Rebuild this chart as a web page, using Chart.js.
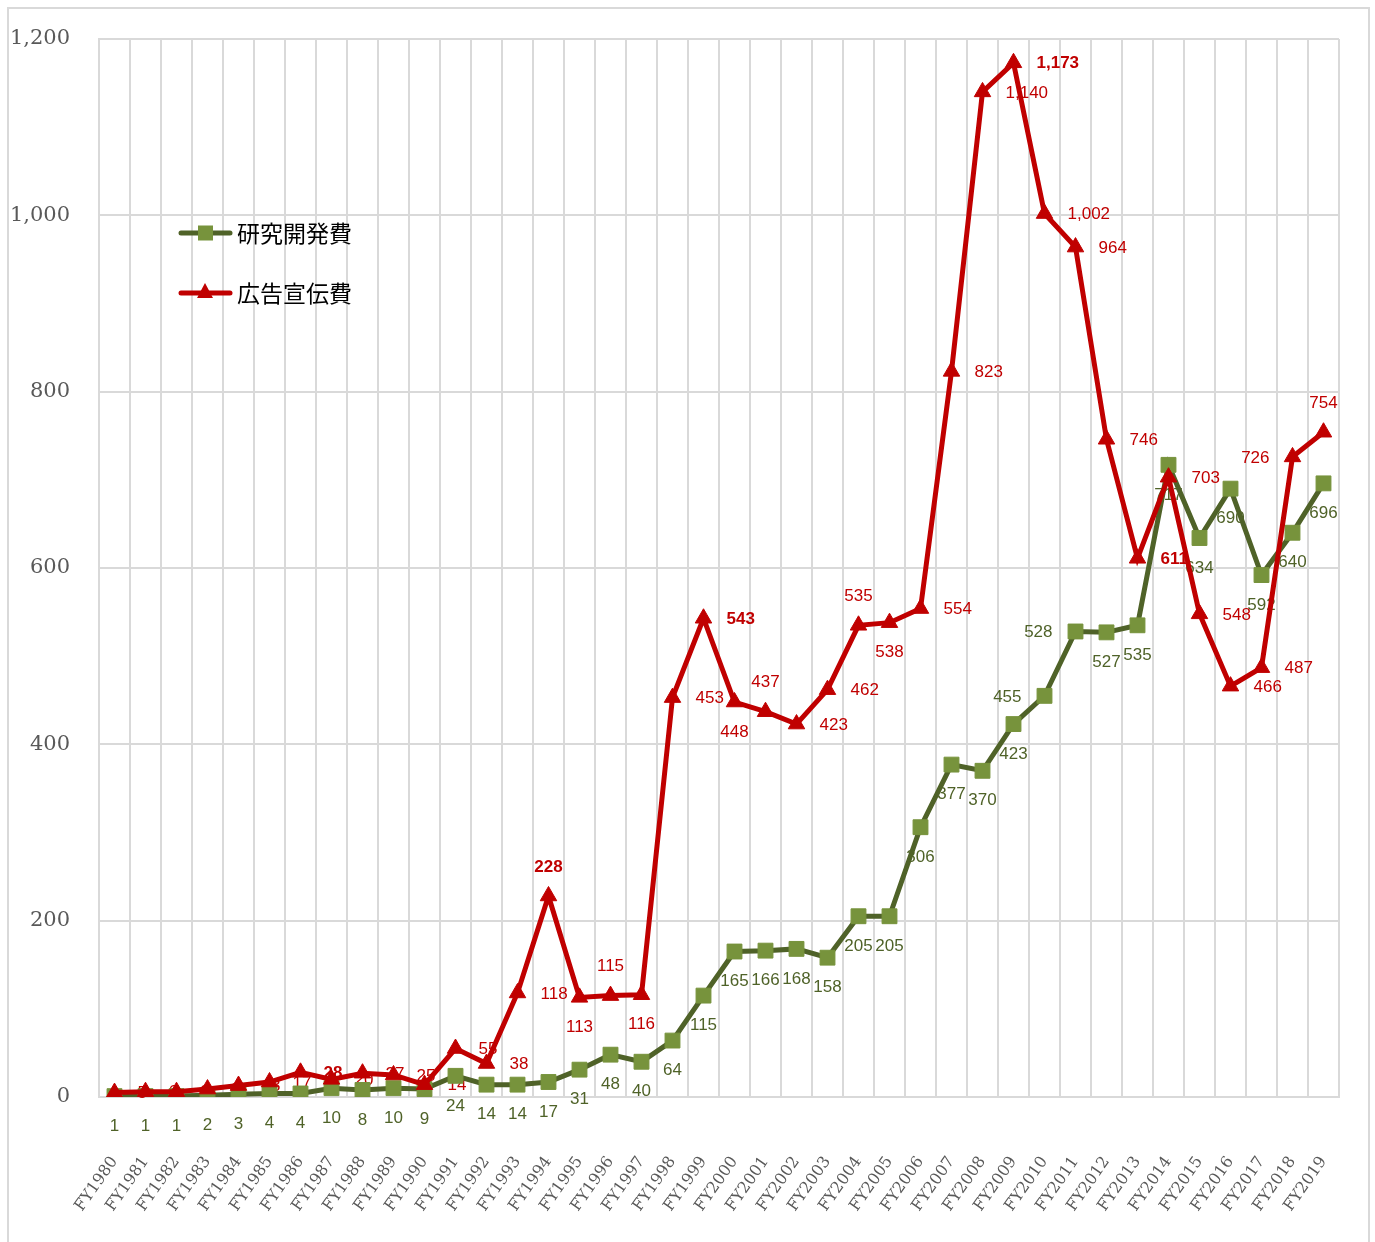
<!DOCTYPE html>
<html>
<head>
<meta charset="utf-8">
<script src="https://cdn.jsdelivr.net/npm/chart.js@4.4.1/dist/chart.umd.min.js"></script>
<style>
  html, body { margin: 0; padding: 0; background: #fff; }
  #wrap { position: relative; width: 1375px; height: 1242px; overflow: hidden; }
  #frame { position: absolute; left: 7px; top: 7px; width: 1359px; height: 1260px; border: 2px solid #d9d9d9; }
  #chart { position: absolute; left: 0; top: 0; }
</style>
</head>
<body>
<div id="wrap">
  <div id="frame"></div>
  <canvas id="chart" width="1375" height="1242"></canvas>
</div>
<script>
// 年度
const years = ['FY1980', 'FY1981', 'FY1982', 'FY1983', 'FY1984', 'FY1985', 'FY1986', 'FY1987', 'FY1988', 'FY1989',
  'FY1990', 'FY1991', 'FY1992', 'FY1993', 'FY1994', 'FY1995', 'FY1996', 'FY1997', 'FY1998', 'FY1999',
  'FY2000', 'FY2001', 'FY2002', 'FY2003', 'FY2004', 'FY2005', 'FY2006', 'FY2007', 'FY2008', 'FY2009',
  'FY2010', 'FY2011', 'FY2012', 'FY2013', 'FY2014', 'FY2015', 'FY2016', 'FY2017', 'FY2018', 'FY2019'];

// 研究開発費
const rdCost = [1, 1, 1, 2, 3, 4, 4, 10, 8, 10,
  9, 24, 14, 14, 17, 31, 48, 40, 64, 115,
  165, 166, 168, 158, 205, 205, 306, 377, 370, 423,
  455, 528, 527, 535, 717, 634, 690, 592, 640, 696];

// 広告宣伝費
const adCost = [5, 6, 6, 9, 13, 17, 28, 20, 27, 25,
  14, 55, 38, 118, 228, 113, 115, 116, 453, 543,
  448, 437, 423, 462, 535, 538, 554, 823, 1140, 1173,
  1002, 964, 746, 611, 703, 548, 466, 487, 726, 754];

const yTicks = [0, 200, 400, 600, 800, 1000, 1200];

// ラベルの置き場所 (既定: 研究開発費=下, 広告宣伝費=右)
const rdLabelPos = { FY2010: 'left', FY2011: 'left' };
const adLabelPos = { FY1994: 'top', FY1995: 'bottom', FY1996: 'top', FY1997: 'bottom', FY2000: 'bottom',
  FY2001: 'top', FY2004: 'top', FY2005: 'bottom', FY2018: 'left', FY2019: 'top' };
const adBold = ['FY1986', 'FY1994', 'FY1999', 'FY2009', 'FY2013'];

const GREEN_LINE = '#4f6228';
const GREEN_MARK = '#77933c';
const RED = '#c00000';

function fmt(v) { return v.toLocaleString('en-US'); }

// データラベル (線の下に描く)
const valueLabels = {
  id: 'valueLabels',
  beforeDatasetsDraw(chart) {
    const ctx = chart.ctx;
    ctx.save();
    chart.data.datasets.forEach((ds, di) => {
      const meta = chart.getDatasetMeta(di);
      const isAd = ds.key === 'ad';
      meta.data.forEach((pt, i) => {
        const yr = years[i];
        const pos = isAd ? (adLabelPos[yr] || 'right') : (rdLabelPos[yr] || 'bottom');
        const bold = isAd && adBold.includes(yr);
        ctx.font = (bold ? 'bold ' : '') + '17px "Liberation Sans", Arial, sans-serif';
        ctx.fillStyle = isAd ? RED : GREEN_LINE;
        ctx.textBaseline = 'middle';
        let x = pt.x, y = pt.y;
        if (pos === 'right') { ctx.textAlign = 'left'; x += 23; y += 1; }
        else if (pos === 'left') { ctx.textAlign = 'right'; x -= 23; y += 1; }
        else if (pos === 'top') { ctx.textAlign = 'center'; y -= 29; }
        else { ctx.textAlign = 'center'; y += 30; }
        ctx.fillText(fmt(ds.data[i]), x, y);
      });
    });
    ctx.restore();
  }
};

// 凡例 (グラフ内左上)
const innerLegend = {
  id: 'innerLegend',
  afterDraw(chart) {
    const ctx = chart.ctx;
    const items = [
      { text: '研究開発費', line: GREEN_LINE, mark: GREEN_MARK, shape: 'rect', y: 233 },
      { text: '広告宣伝費', line: RED, mark: RED, shape: 'triangle', y: 293 }
    ];
    ctx.save();
    items.forEach(it => {
      ctx.strokeStyle = it.line;
      ctx.lineWidth = 5;
      ctx.lineCap = 'round';
      ctx.beginPath();
      ctx.moveTo(181, it.y);
      ctx.lineTo(230, it.y);
      ctx.stroke();
      ctx.fillStyle = it.mark;
      if (it.shape === 'rect') {
        ctx.fillRect(198, it.y - 7.5, 15, 15);
      } else {
        ctx.beginPath();
        ctx.moveTo(205, it.y - 10);
        ctx.lineTo(213, it.y + 5);
        ctx.lineTo(197, it.y + 5);
        ctx.closePath();
        ctx.fill();
      }
      ctx.fillStyle = '#000';
      ctx.font = '23px "Noto Sans CJK JP", sans-serif';
      ctx.textAlign = 'left';
      ctx.textBaseline = 'middle';
      ctx.fillText(it.text, 237, it.y);
    });
    ctx.restore();
  }
};

const ctx = document.getElementById('chart').getContext('2d');
new Chart(ctx, {
  type: 'line',
  data: {
    labels: years,
    datasets: [
      {
        key: 'rd',
        label: '研究開発費',
        data: rdCost,
        borderColor: GREEN_LINE,
        backgroundColor: GREEN_MARK,
        borderWidth: 5,
        tension: 0,
        pointStyle: 'rect',
        pointRadius: 10.5,
        pointBackgroundColor: GREEN_MARK,
        pointBorderColor: GREEN_MARK,
        pointBorderWidth: 1,
        order: 2
      },
      {
        key: 'ad',
        label: '広告宣伝費',
        data: adCost,
        borderColor: RED,
        backgroundColor: RED,
        borderWidth: 5,
        tension: 0,
        pointStyle: 'triangle',
        pointRadius: 9.5,
        pointBackgroundColor: RED,
        pointBorderColor: RED,
        pointBorderWidth: 1,
        order: 1
      }
    ]
  },
  options: {
    responsive: false,
    animation: false,
    devicePixelRatio: 1,
    layout: { padding: { left: 0, right: 36, top: 39, bottom: 0 } },
    scales: {
      x: {
        offset: true,
        grid: { offset: true, color: '#d9d9d9', lineWidth: 2, drawTicks: false },
        border: { color: '#d9d9d9', width: 2 },
        ticks: {
          autoSkip: false,
          minRotation: 55,
          maxRotation: 55,
          padding: 56,
          color: '#595959',
          font: { family: '"DejaVu Serif", serif', size: 16 }
        },
        afterFit(scale) {
          scale.height = 145;
          scale.paddingLeft = 0;
          scale.paddingRight = 0;
        }
      },
      y: {
        min: 0,
        max: 1200,
        afterBuildTicks(scale) { scale.ticks = yTicks.map(v => ({ value: v })); },
        grid: { color: '#d9d9d9', lineWidth: 2, drawTicks: false },
        border: { color: '#d9d9d9', width: 2 },
        ticks: {
          padding: 29,
          color: '#595959',
          font: { family: '"DejaVu Serif", serif', size: 21 },
          callback: v => fmt(v)
        },
        afterFit(scale) {
          scale.width = 99;
          scale.paddingTop = 0;
          scale.paddingBottom = 0;
        }
      }
    },
    plugins: {
      legend: { display: false },
      tooltip: { enabled: false }
    }
  },
  plugins: [valueLabels, innerLegend]
});
</script>
</body>
</html>
